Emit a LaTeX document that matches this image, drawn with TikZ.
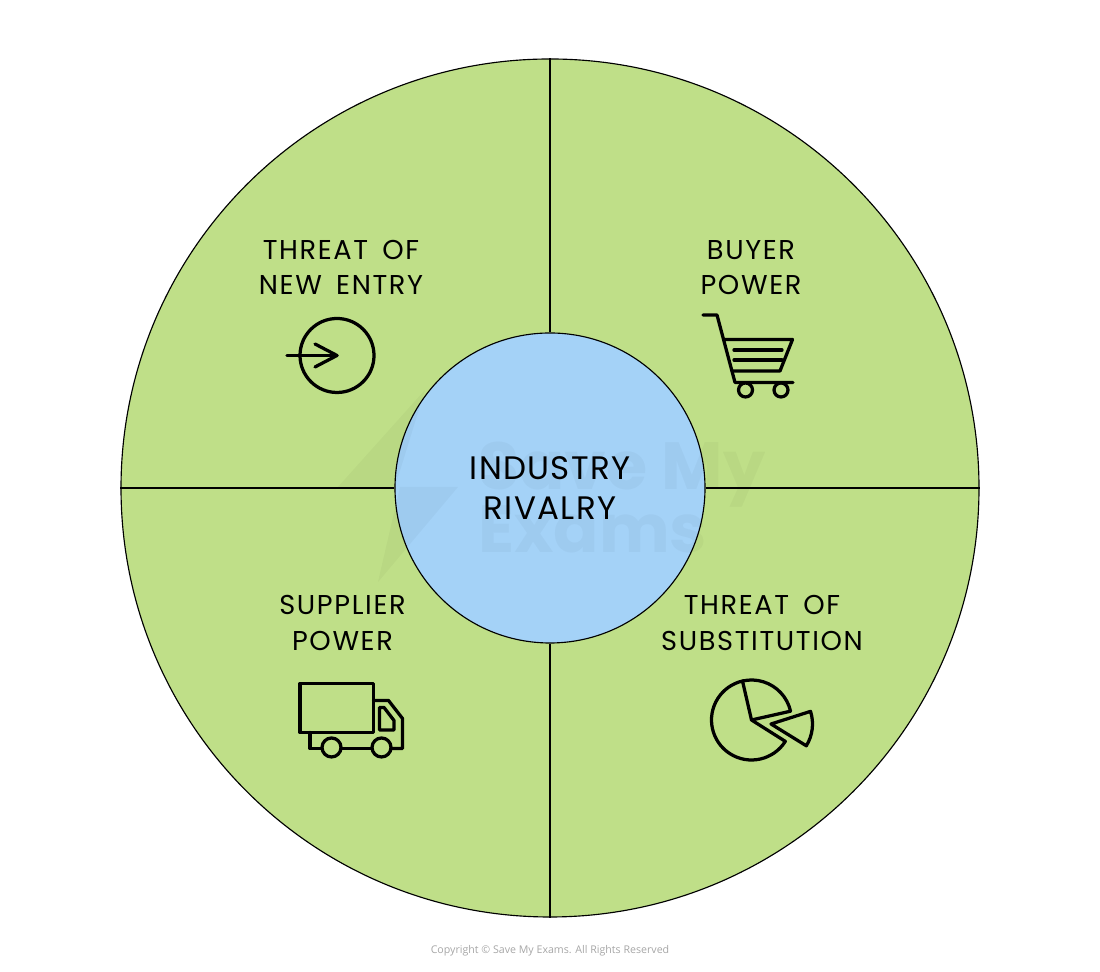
\documentclass[tikz,border=0pt]{standalone}
\usepackage{fontspec}
\setmainfont{Poppins}
\newfontfamily\forcefont[LetterSpace=6, WordSpace=1.6]{Poppins}
\newfontfamily\rivalfont[LetterSpace=4]{Poppins}
\newfontfamily\copyfont{Open Sans}
\usepackage{xcolor}
\definecolor{sectorgreen}{RGB}{191,223,136}
\definecolor{hubblue}{RGB}{164,210,247}
\tikzset{
    ring/.style={circle, draw, line width=0.65pt, inner sep=0pt},
    force/.style={align=center, font=\forcefont\fontsize{15.5}{20}\selectfont},
    icon/.style={line width=1.85pt, line join=round, line cap=round},
    mark text/.style={anchor=base west, inner sep=0pt, opacity=0.03, font=\fontsize{38}{38}\selectfont\bfseries}
}

\begin{document}
\begin{tikzpicture}
        \useasboundingbox (0, 0) rectangle (22, 19.44);

        \node[ring, fill=sectorgreen, minimum size=17.16cm] (outer) at (11, 9.68) {};
        \node[ring, fill=hubblue, minimum size=6.2cm] (hub) at (11, 9.68) {};

        \draw[line width=0.65pt] (hub.north) -- (outer.north);
        \draw[line width=0.65pt] (hub.south) -- (outer.south);
        \draw[line width=0.65pt] (hub.east)  -- (outer.east);
        \draw[line width=0.65pt] (hub.west)  -- (outer.west);

        \node[force, font=\rivalfont\fontsize{18.5}{23}\selectfont] (rivalry) at (11, 9.68) {INDUSTRY\\RIVALRY};
        \node[force] (entry) at (6.82, 14.09) {THREAT OF\\NEW ENTRY};
        \node[force] (buyer) at (15.02, 14.09) {BUYER\\POWER};
        \node[force] (supplier) at (6.85, 6.98) {SUPPLIER\\POWER};
        \node[force] (substitution) at (15.24, 6.98) {THREAT OF\\SUBSTITUTION};

        \draw[icon] (6.74, 12.33) circle (0.74);
        \draw[icon] (5.74, 12.33) -- (6.74, 12.33);
        \draw[icon] (6.30, 12.56) -- (6.74, 12.33) -- (6.30, 12.10);

        \draw[icon] (14.06, 13.14) -- (14.34, 13.14) -- (14.70, 11.79) -- (15.86, 11.79);
        \draw[icon] (14.50, 12.65) -- (15.85, 12.65) -- (15.60, 12.02) -- (14.64, 12.02);
        \draw[icon] (14.68, 12.44) -- (15.64, 12.44);
        \draw[icon] (14.68, 12.24) -- (15.64, 12.24);
        \draw[icon] (14.91, 11.64) circle (0.14);
        \draw[icon] (15.62, 11.64) circle (0.14);

        \draw[icon] (6.00, 4.79) rectangle (7.47, 5.77);
        \draw[icon] (7.47, 5.43) -- (7.77, 5.43) -- (8.05, 5.07) -- (8.05, 4.47) -- (7.82, 4.47);
        \draw[icon] (7.44, 4.47) -- (6.82, 4.47);
        \draw[icon] (6.44, 4.47) -- (6.20, 4.47) -- (6.20, 4.79);
        \draw[icon] (6.63, 4.49) circle (0.19);
        \draw[icon] (7.63, 4.49) circle (0.19);
        \draw[icon] (7.59, 5.29) -- (7.68, 5.29) -- (7.88, 5.03) -- (7.88, 4.84) -- (7.59, 4.84) -- cycle;

        \coordinate (pie) at (15.03, 5.04);
        \coordinate (slice) at (15.42, 4.96);
        \draw[icon] (pie) ++(-32.3:0.8) arc[start angle=-32.3, end angle=-257, radius=0.8] -- (pie) -- cycle;
        \draw[icon] (pie) ++(12.7:0.8) arc[start angle=12.7, end angle=103, radius=0.8];
        \draw[icon] (pie) -- ++(12.7:0.8);
        \draw[icon] (slice) -- ++(17.7:0.83) arc[start angle=17.7, end angle=-31.7, radius=0.83] -- cycle;

        \fill[opacity=0.03] (8.5, 11.64) -- (6.76, 9.7) -- (7.9, 9.7) -- cycle;
        \fill[opacity=0.03] (9.16, 9.7) -- (8, 9.7) -- (7.56, 7.8) -- cycle;
        \node[mark text] (save) at (9.56, 9.64) {Save My};
        \node[mark text] (exams) at (9.56, 8.38) {Exams};

        \node[font=\copyfont\fontsize{6.05}{8}\selectfont, text=black!35] (copy) at (11, 0.42) {Copyright © Save My Exams. All Rights Reserved};
    \end{tikzpicture}
\end{document}
